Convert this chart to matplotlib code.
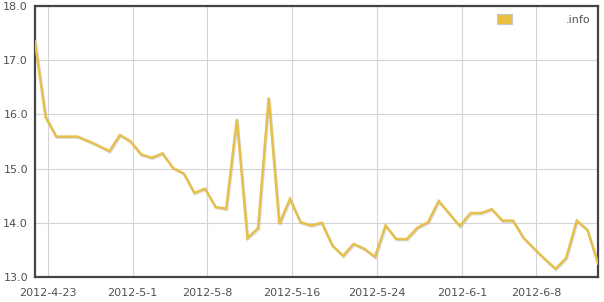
import matplotlib
matplotlib.use("Agg")
import matplotlib.pyplot as plt
import matplotlib.dates as mdates
import matplotlib.patheffects as pe
from matplotlib.patches import Patch
import pandas as pd

# daily values, 2012-04-22 .. 2012-06-14
values = [
    17.34, 15.95, 15.59, 15.59, 15.59, 15.51, 15.42, 15.32, 15.62, 15.50,
    15.26, 15.20, 15.28, 15.01, 14.91, 14.55, 14.63, 14.29, 14.26, 15.91,
    13.72, 13.90, 16.31, 13.98, 14.44, 14.01, 13.95, 14.00, 13.58, 13.39,
    13.61, 13.52, 13.37, 13.95, 13.70, 13.70, 13.91, 14.01, 14.40, 14.17,
    13.94, 14.18, 14.18, 14.25, 14.04, 14.04, 13.72, 13.52, 13.33, 13.15,
    13.35, 14.04, 13.87, 13.25,
]
start_date = "2012-04-22"
tick_dates = ["2012-04-23", "2012-05-01", "2012-05-08", "2012-05-16",
              "2012-05-24", "2012-06-01", "2012-06-08"]
tick_labels = ["2012-4-23", "2012-5-1", "2012-5-8", "2012-5-16",
               "2012-5-24", "2012-6-1", "2012-6-8"]
y_ticks = [13.0, 14.0, 15.0, 16.0, 17.0, 18.0]
series_label = ".info"

dates = pd.date_range(start_date, periods=len(values), freq="D")

fig = plt.figure(figsize=(6.04, 3.02), dpi=100)
ax = fig.add_axes([35 / 604, 25 / 302, 563 / 604, 271 / 302])

line_color = "#E6BF4C"
ax.plot(dates, values, color=line_color, lw=1.8, solid_joinstyle="miter",
        path_effects=[pe.SimpleLineShadow(offset=(0.6, -0.8), shadow_color="#999999", alpha=0.35),
                      pe.Normal()], zorder=3)

ax.set_xlim(dates[0], dates[-1])
ax.set_ylim(13.0, 18.0)

# grid lines sit a few hours after midnight in the original
tick_pos = [mdates.date2num(pd.Timestamp(d)) + 0.19 for d in tick_dates]
ax.set_xticks(tick_pos)
ax.set_xticklabels(tick_labels)
ax.set_yticks(y_ticks)
ax.set_yticklabels([f"{v:.1f}" for v in y_ticks])

ax.grid(True, color="#d4d4d4", lw=0.8)
ax.set_axisbelow(True)
ax.tick_params(length=0, labelsize=8, labelcolor="#505050")
ax.tick_params(axis="x", pad=8)
ax.tick_params(axis="y", pad=5)

for sp in ax.spines.values():
    sp.set_color("#444444")
    sp.set_linewidth(1.6)

handle = Patch(facecolor="#E8C040", edgecolor="#c8c8c8", lw=0.8)
leg = ax.legend([handle], [series_label], loc="upper right", frameon=False,
                fontsize=8, handlelength=1.4, handleheight=1.0,
                handletextpad=4.8, borderaxespad=0.3)
for t in leg.get_texts():
    t.set_color("#505050")

fig.savefig("out.png", dpi=100)
